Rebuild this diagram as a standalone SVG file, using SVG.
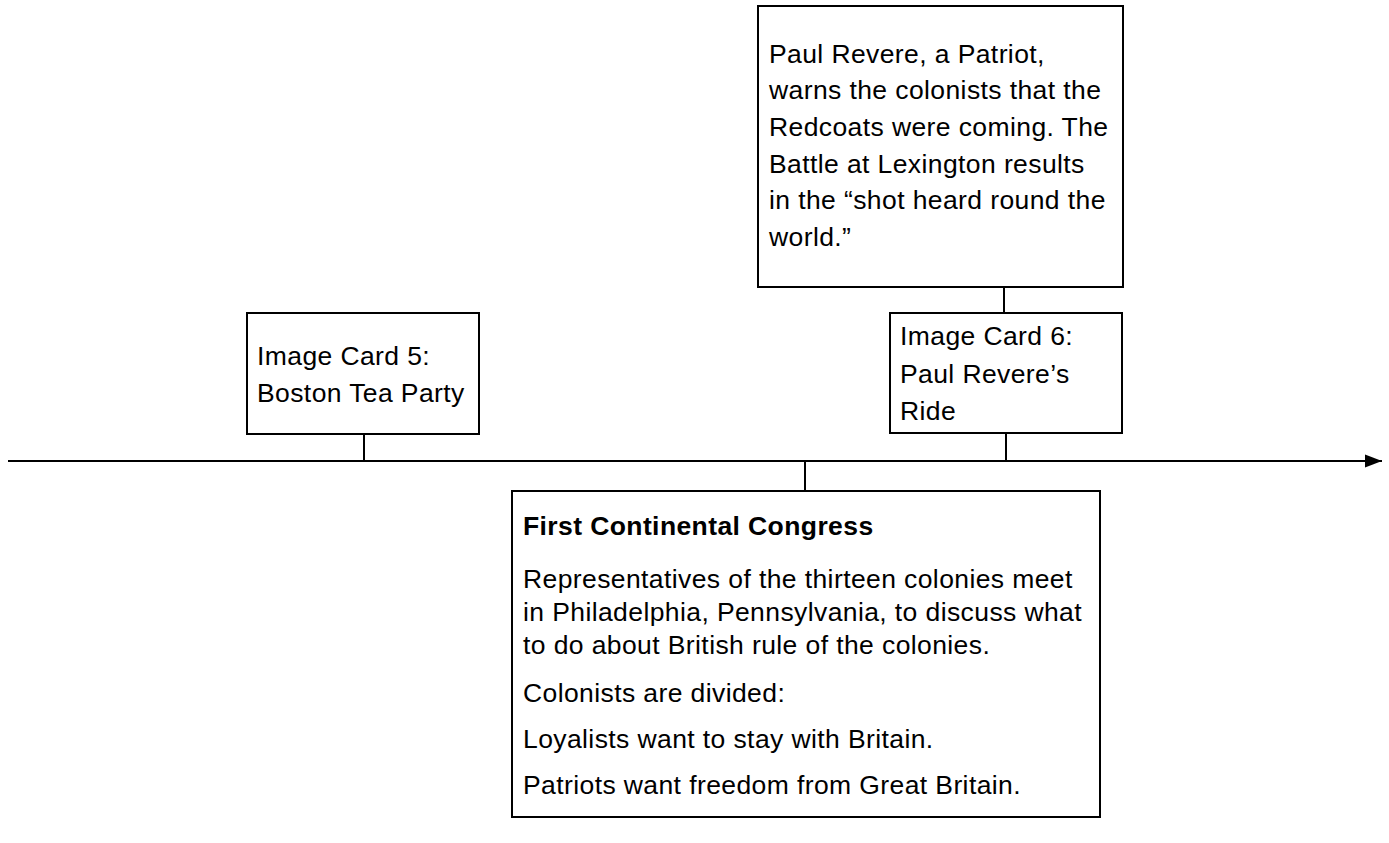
<svg xmlns="http://www.w3.org/2000/svg" width="1389" height="843" viewBox="0 0 1389 843">
<style>
.box{fill:#fff;stroke:#000;stroke-width:2}
.ln{fill:none;stroke:#000;stroke-width:2}
text{font-family:"Liberation Sans",Arial,Helvetica,sans-serif;font-size:26.5px;letter-spacing:0.4px;fill:#000}
.b{font-weight:bold}
</style>
<defs>
<marker id="arr" markerUnits="userSpaceOnUse" markerWidth="18" markerHeight="14" refX="17" refY="7" orient="auto">
<path d="M0,0.5 L17,7 L0,13.5 Z" fill="#000"/>
</marker>
</defs>
<rect width="1389" height="843" fill="#fff"/>
<g id="connectors">
<line class="ln" x1="8" y1="461" x2="1382" y2="461" marker-end="url(#arr)"/>
<line class="ln" x1="364" y1="434" x2="364" y2="461"/>
<line class="ln" x1="1004" y1="287" x2="1004" y2="313"/>
<line class="ln" x1="1006" y1="433" x2="1006" y2="461"/>
<line class="ln" x1="805" y1="461" x2="805" y2="491"/>
</g>
<g id="node-revere-text">
<rect class="box" x="758" y="6" width="365" height="281"/>
<text x="769" y="62.5">Paul Revere, a Patriot,</text>
<text x="769" y="99.2">warns the colonists that the</text>
<text x="769" y="135.9">Redcoats were coming. The</text>
<text x="769" y="172.6">Battle at Lexington results</text>
<text x="769" y="209.3">in the “shot heard round the</text>
<text x="769" y="246">world.”</text>
</g>
<g id="node-card5">
<rect class="box" x="247" y="313" width="232" height="121"/>
<text x="257" y="365">Image Card 5:</text>
<text x="257" y="402">Boston Tea Party</text>
</g>
<g id="node-card6">
<rect class="box" x="890" y="313" width="232" height="120"/>
<text x="900" y="345">Image Card 6:</text>
<text x="900" y="382.5">Paul Revere’s</text>
<text x="900" y="420">Ride</text>
</g>
<g id="node-congress">
<rect class="box" x="512" y="491" width="588" height="326"/>
<text class="b" x="523" y="535">First Continental Congress</text>
<text x="523" y="588">Representatives of the thirteen colonies meet</text>
<text x="523" y="621">in Philadelphia, Pennsylvania, to discuss what</text>
<text x="523" y="654">to do about British rule of the colonies.</text>
<text x="523" y="702">Colonists are divided:</text>
<text x="523" y="748">Loyalists want to stay with Britain.</text>
<text x="523" y="794">Patriots want freedom from Great Britain.</text>
</g>
</svg>
